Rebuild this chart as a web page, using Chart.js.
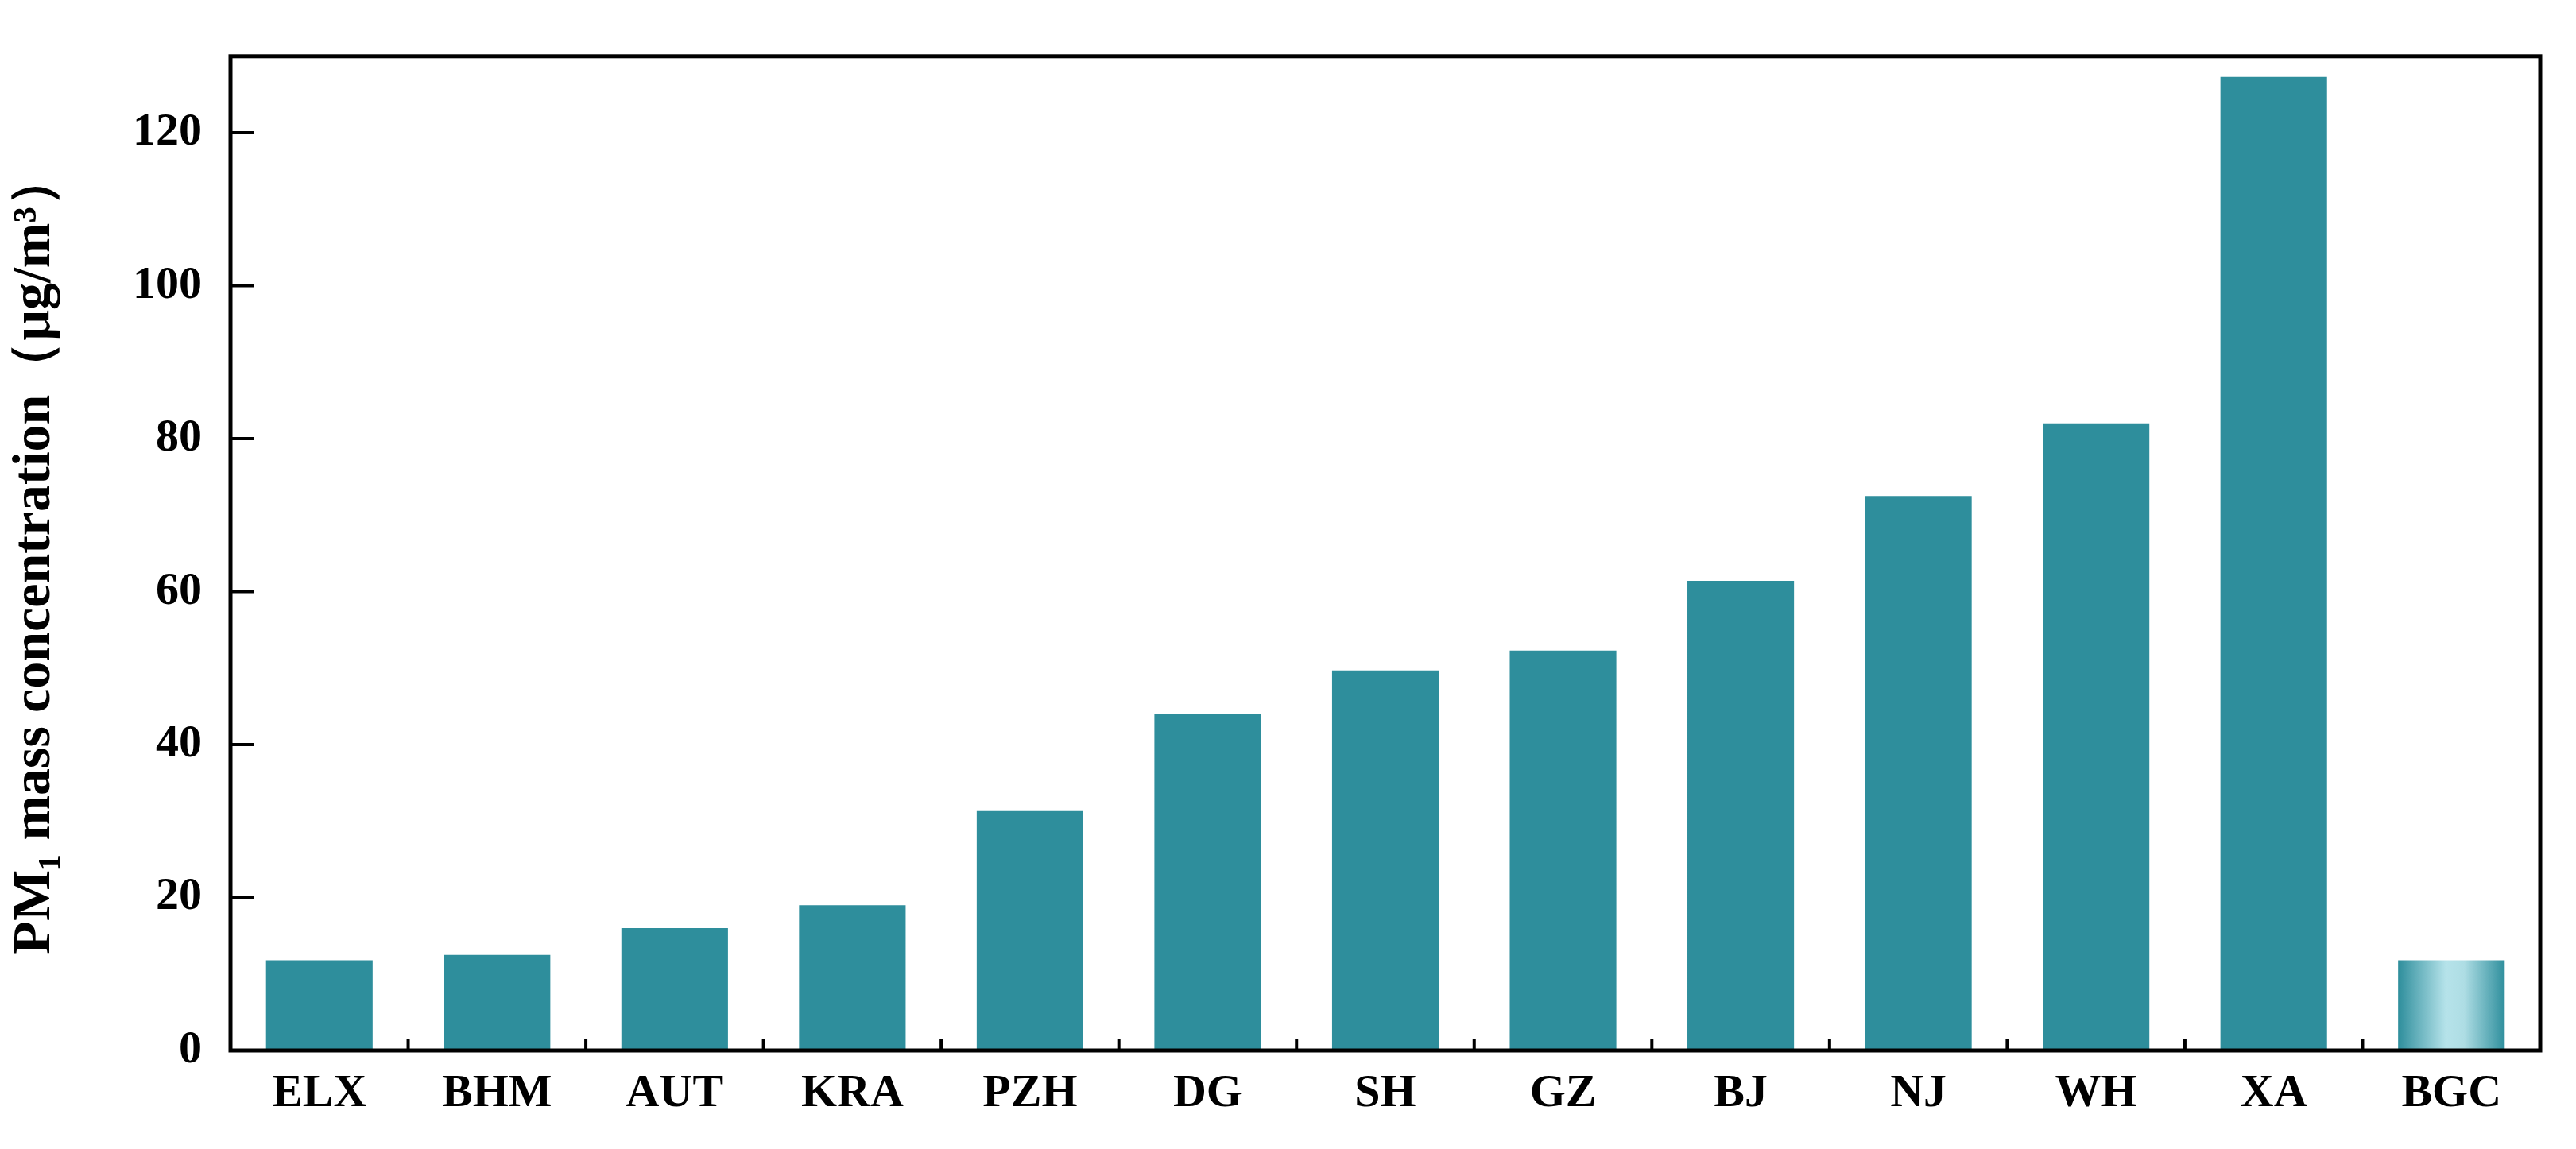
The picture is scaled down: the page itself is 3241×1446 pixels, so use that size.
<!DOCTYPE html>
<html>
<head>
<meta charset="utf-8">
<script src="https://cdn.jsdelivr.net/npm/chart.js@4"></script>
<style>
  body { margin: 0; background: #fff; }
</style>
</head>
<body>
<canvas id="pmChart" width="3241" height="1446"></canvas>
<script>
"use strict";
// sites and PM1 values
let sites = ["ELX", "BHM", "AUT", "KRA", "PZH", "DG", "SH", "GZ", "BJ", "NJ", "WH", "XA", "BGC"];
let pmValues = [11.8, 12.5, 16, 19, 31.3, 44, 49.7, 52.3, 61.4, 72.5, 82, 127.3, 11.8];
let yTicks = [0, 20, 40, 60, 80, 100, 120];

// gradient bars, inward ticks + frame, positions from the chart's own scales
let frameTicks = {
  id: 'frameTicks',
  beforeDatasetsDraw(chart){
    let ctx = chart.ctx;
    chart.getDatasetMeta(0).data.forEach(function(bar){
      let x0 = bar.x - bar.width / 2, x1 = bar.x + bar.width / 2;
      let g = ctx.createLinearGradient(x0, 0, x1, 0);
      g.addColorStop(0, "#2e8e9c");
      g.addColorStop(0.45, "#b6e3ea");
      g.addColorStop(0.62, "#aedde4");
      g.addColorStop(1, "#2f8f9d");
      bar.options.backgroundColor = g;
    });
  },
  afterDraw(chart){
    let ctx = chart.ctx, a = chart.chartArea;
    let xs = chart.scales.x, ys = chart.scales.y;
    ctx.save();
    ctx.strokeStyle = "#000";
    ctx.lineWidth = 5;
    ctx.strokeRect(a.left, a.top, a.right - a.left, a.bottom - a.top);
    ctx.lineWidth = 4;
    ctx.beginPath();
    yTicks.forEach(function(v){
      let y = ys.getPixelForValue(v);
      ctx.moveTo(a.left, y);
      ctx.lineTo(a.left + 30, y);
    });
    for(let i = 0; i < sites.length - 1; i++){
      let x = (xs.getPixelForValue(i) + xs.getPixelForValue(i + 1)) / 2;
      ctx.moveTo(x, a.bottom);
      ctx.lineTo(x, a.bottom - 14);
    }
    ctx.stroke();
    ctx.restore();
  }
};

let pmChart = new Chart(document.getElementById('pmChart'), {
  type: 'bar',
  plugins: [frameTicks],
  data: {
    labels: sites,
    datasets: [{
      data: pmValues,
      backgroundColor: "#6fbcc7",
      borderWidth: 0,
      barPercentage: 0.6,
      categoryPercentage: 1.0
    }]
  },
  options: {
    responsive: false,
    devicePixelRatio: 1,
    animation: false,
    layout: { padding: { top: 44, right: 45, left: 0, bottom: 0 } },
    plugins: { legend: { display: false }, tooltip: { enabled: false } },
    scales: {
      x: {
        grid: { display: false, drawTicks: false },
        border: { display: false },
        ticks: {
          color: "#000",
          padding: 20,
          font: { family: "Liberation Serif", weight: "bold", size: 58 }
        },
        afterFit(s){ s.height = 124; }
      },
      y: {
        min: 0,
        max: 130,
        grid: { display: false, drawTicks: false },
        border: { display: false },
        afterBuildTicks(s){ s.ticks = yTicks.map(v => ({ value: v })); },
        ticks: {
          color: "#000",
          padding: 36,
          font: { family: "Liberation Serif", weight: "bold", size: 58 }
        },
        title: {
          display: true,
          text: "PM\u2081 mass concentration\uff08\u03bcg/m\u00b3\uff09",
          color: "#000",
          padding: { bottom: 22 },
          font: { family: "Liberation Serif", weight: "bold", size: 68 }
        },
        afterFit(s){ s.width = 290; }
      }
    }
  }
});
</script>
</body>
</html>
